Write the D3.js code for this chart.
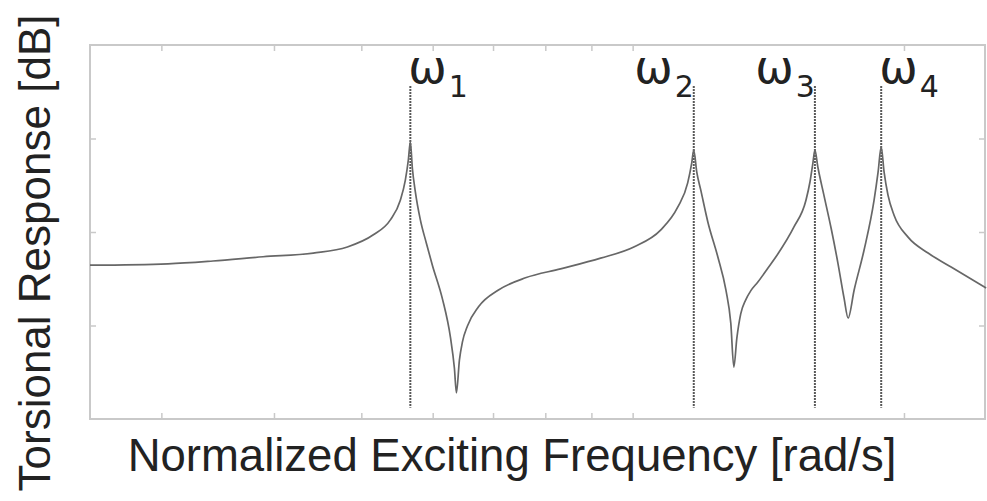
<!DOCTYPE html>
<html>
<head>
<meta charset="utf-8">
<script src="https://cdn.jsdelivr.net/npm/d3@7"></script>
<style>
  html, body { margin: 0; padding: 0; background: #fff; }
  svg { display: block; }
</style>
</head>
<body>
<svg id="chart" width="987" height="501"></svg>
<script>
// Normalized exciting frequency (log axis) and torsional response in dB
const freq = [2.50, 3.051, 3.423, 3.890, 4.422, 4.825, 5.156, 5.385, 5.524, 5.595, 5.638, 5.667,
  5.696, 5.740, 5.814, 5.904, 5.995, 6.151, 6.278, 6.342, 6.375,
  6.424, 6.474, 6.557, 6.745, 7.098, 7.605, 8.318, 9.214, 10.03, 10.74, 11.22, 11.51, 11.63, 11.69,
  11.78, 11.90, 12.12, 12.43, 12.69, 12.85, 12.95,
  13.05, 13.18, 13.35, 13.52, 13.77, 14.13, 14.49, 15.10, 15.57, 15.73, 15.85, 15.93,
  16.05, 16.30, 16.60, 16.90, 17.16, 17.34,
  17.61, 18.06, 18.53, 18.72, 18.87, 19.01, 19.20, 19.50, 20.21, 21.27, 22.56, 24.67];
const response = [-47.1, -46.8, -46.2, -45.3, -44.5, -43.2, -40.6, -37.4, -33.2, -28.9, -24.6, -20.7,
  -26.3, -31.4, -37.4, -42.4, -47.1, -54.3, -62.5, -69.1, -74.4,
  -67.4, -63.5, -60.1, -56.0, -52.4, -49.8, -47.9, -45.6, -43.2, -39.6, -34.7, -29.5, -25.2, -22.5,
  -27.2, -31.0, -37.9, -45.3, -52.4, -59.5, -68.9,
  -62.7, -57.5, -54.5, -52.6, -50.7, -47.7, -44.7, -38.9, -33.2, -29.3, -25.2, -22.5,
  -26.1, -32.1, -39.1, -46.8, -54.1, -58.4,
  -52.4, -43.9, -33.2, -27.2, -21.8, -27.2, -32.1, -36.4, -41.1, -44.5, -47.5, -52.0];

// Natural frequencies marked by dotted lines
const modeNames = ["1", "2", "3", "4"];
const modeFreq = [5.667, 11.69, 15.93, 18.87];

// Tick values (unlabelled)
const xTicks = [3, 4, 5, 6, 7, 8, 9, 10, 20];
const yTicks = [-60, -40, -20];

const xLabel = "Normalized Exciting Frequency [rad/s]";
const yLabel = "Torsional Response [dB]";

const svg = d3.select("#chart");
const plotLeft = 90, plotRight = 985, plotTop = 45, plotBottom = 419;

const x = d3.scaleLog().domain([2.5, 24.6]).range([plotLeft, plotRight]);
const y = d3.scaleLinear().domain([-80, 0]).range([plotBottom, plotTop]);

const frameColor = "#c9c9c9";

// Inward ticks on all four sides
const tickLen = 6;
const axes = [
  { axis: d3.axisBottom(x).tickValues(xTicks), tr: `translate(0,${plotBottom})` },
  { axis: d3.axisTop(x).tickValues(xTicks), tr: `translate(0,${plotTop})` },
  { axis: d3.axisLeft(y).tickValues(yTicks), tr: `translate(${plotLeft},0)` },
  { axis: d3.axisRight(y).tickValues(yTicks), tr: `translate(${plotRight},0)` }
];
axes.forEach(a => {
  const g = svg.append("g")
    .attr("transform", a.tr)
    .call(a.axis.tickSize(-tickLen).tickFormat(""));
  g.select(".domain").remove();
  g.selectAll(".tick line").attr("stroke", frameColor).attr("stroke-width", 1.5);
});

// Plot frame
svg.append("rect")
  .attr("x", plotLeft).attr("y", plotTop)
  .attr("width", plotRight - plotLeft).attr("height", plotBottom - plotTop)
  .attr("fill", "none")
  .attr("stroke", frameColor)
  .attr("stroke-width", 2);

// Clip for the response curve
svg.append("clipPath").attr("id", "plotClip")
  .append("rect")
  .attr("x", plotLeft).attr("y", plotTop)
  .attr("width", plotRight - plotLeft + 2).attr("height", plotBottom - plotTop);

// Mode lines
const modeTop = -8.8, modeBottom = -77.6;
svg.append("g").selectAll("line")
  .data(modeFreq)
  .join("line")
  .attr("x1", d => x(d)).attr("x2", d => x(d))
  .attr("y1", y(modeTop)).attr("y2", y(modeBottom))
  .attr("stroke", "#222")
  .attr("stroke-width", 2)
  .attr("stroke-dasharray", "1.5,1.5");

// Response curve
const pts = freq.map((f, i) => [f, response[i]]);
const line = d3.line()
  .x(d => x(d[0]))
  .y(d => y(d[1]))
  .curve(d3.curveMonotoneX);
svg.append("path")
  .attr("clip-path", "url(#plotClip)")
  .attr("d", line(pts))
  .attr("fill", "none")
  .attr("stroke", "#676767")
  .attr("stroke-width", 1.7);

// Mode labels: ω with subscript; 2 and 3 sit left of their line
const anchors = ["start", "end", "end", "start"];
const labels = svg.append("g")
  .attr("font-family", "'DejaVu Sans', sans-serif")
  .attr("fill", "#222");
modeFreq.forEach((f, i) => {
  const t = labels.append("text")
    .attr("x", x(f) + (anchors[i] === "start" ? -2 : 0))
    .attr("y", 83)
    .attr("text-anchor", anchors[i])
    .attr("font-size", 46);
  t.append("tspan").text("ω");
  t.append("tspan")
    .attr("font-size", 30)
    .attr("dx", 2)
    .attr("dy", 14)
    .text(modeNames[i]);
});

// Axis titles
svg.append("text")
  .attr("x", 512).attr("y", 471)
  .attr("text-anchor", "middle")
  .attr("font-family", "'Liberation Sans', Arial, sans-serif")
  .attr("font-size", 45.5)
  .attr("fill", "#222")
  .text(xLabel);

svg.append("text")
  .attr("transform", "translate(50,253) rotate(-90)")
  .attr("text-anchor", "middle")
  .attr("font-family", "'Liberation Sans', Arial, sans-serif")
  .attr("font-size", 44)
  .attr("fill", "#222")
  .text(yLabel);
</script>
</body>
</html>
